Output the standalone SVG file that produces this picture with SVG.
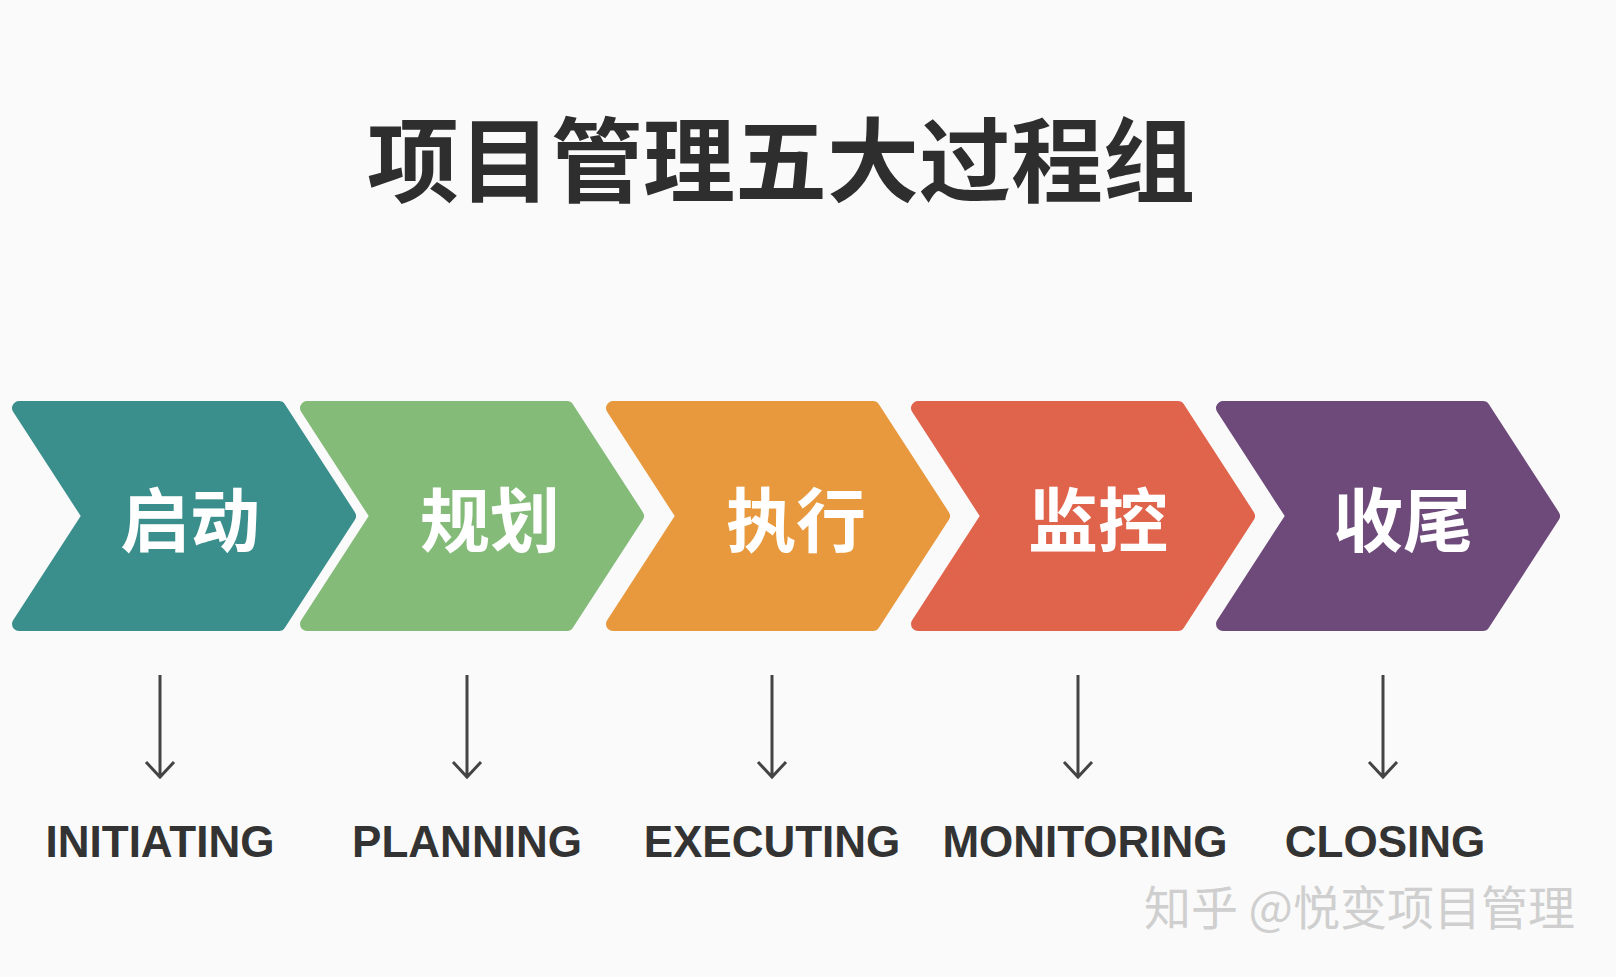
<svg xmlns="http://www.w3.org/2000/svg" width="1616" height="977" viewBox="0 0 1616 977">
<defs>
<style>
.t{font-family:"Noto Sans CJK SC","Noto Sans",sans-serif;font-weight:bold;text-anchor:middle}
.c{font-family:"Noto Sans CJK SC",sans-serif;font-weight:bold;font-size:70px;fill:#fff;text-anchor:middle;dominant-baseline:central}
.e{font-family:"Liberation Sans","Noto Sans",sans-serif;font-weight:bold;font-size:44px;fill:#333;text-anchor:middle}
.ch{stroke-width:14;stroke-linejoin:round}
.a{stroke:#444;stroke-width:3;fill:none}
</style>
<path id="chev" d="M7,0 L267,0 L337,108 L267,216 L7,216 L77,108 Z"/>
</defs>
<rect width="1616" height="977" fill="#fafafa"/>
<text class="t" x="781" y="195" font-size="92" fill="#2e2e2e">项目管理五大过程组</text>
<g id="n1"><use href="#chev" x="12" y="408" class="ch" fill="#3a8f8c" stroke="#3a8f8c"/><text class="c" x="190" y="516">启动</text></g>
<g id="n2"><use href="#chev" x="300" y="408" class="ch" fill="#84bb79" stroke="#84bb79"/><text class="c" x="490" y="516">规划</text></g>
<g id="n3"><use href="#chev" x="606" y="408" class="ch" fill="#e8993d" stroke="#e8993d"/><text class="c" x="796" y="516">执行</text></g>
<g id="n4"><use href="#chev" x="911" y="408" class="ch" fill="#e0644b" stroke="#e0644b"/><text class="c" x="1098" y="516">监控</text></g>
<g id="n5"><use href="#chev" x="1216" y="408" class="ch" fill="#6e4a7a" stroke="#6e4a7a"/><text class="c" x="1403" y="516">收尾</text></g>
<g id="connectors">
<path class="a" d="M160,675 V777 M146,762 L160,777 L174,762"/>
<path class="a" d="M467,675 V777 M453,762 L467,777 L481,762"/>
<path class="a" d="M772,675 V777 M758,762 L772,777 L786,762"/>
<path class="a" d="M1078,675 V777 M1064,762 L1078,777 L1092,762"/>
<path class="a" d="M1383,675 V777 M1369,762 L1383,777 L1397,762"/>
</g>
<text class="e" x="160" y="857">INITIATING</text>
<text class="e" x="467" y="857">PLANNING</text>
<text class="e" x="772" y="857">EXECUTING</text>
<text class="e" x="1085" y="857">MONITORING</text>
<text class="e" x="1385" y="857">CLOSING</text>
<text x="1575" y="925" font-family="Noto Sans CJK SC,sans-serif" font-size="47" fill="#cfcfcf" text-anchor="end">知乎 @悦变项目管理</text>
</svg>
